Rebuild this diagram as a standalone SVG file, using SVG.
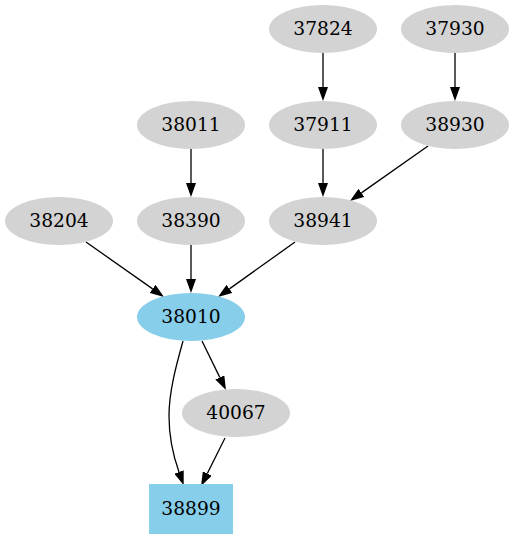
<svg xmlns="http://www.w3.org/2000/svg" width="514" height="539" viewBox="0 0 514 539">
<style>
.n{fill:#d3d3d3;stroke:none}
.h{fill:#87ceeb;stroke:none}
text{font-family:"DejaVu Serif",serif;font-size:18.67px;text-anchor:middle;fill:#000}
.e{fill:none;stroke:#000;stroke-width:1.3;marker-end:url(#ah)}
</style>
<defs>
<marker id="ah" markerWidth="14" markerHeight="10" refX="0" refY="5" orient="auto" markerUnits="userSpaceOnUse">
<path d="M0,0 L14,5 L0,10 z" fill="#000"/>
</marker>
</defs>
<rect width="514" height="539" fill="#fff"/>
<g id="edges">
<path class="e" d="M323,53 L323,87"/>
<path class="e" d="M455,53 L455,87"/>
<path class="e" d="M191,149 L191,183"/>
<path class="e" d="M323,149 L323,183"/>
<path class="e" d="M428,146 L361.4,192.9"/>
<path class="e" d="M86,242 L152.6,288.9"/>
<path class="e" d="M191,245 L191,279"/>
<path class="e" d="M295,242 L229.4,288.9"/>
<path class="e" d="M202,341 L219.8,377.4"/>
<path class="e" d="M225,438 L207.3,473.5"/>
<path class="e" d="M183,341 C176,366 169,392 169,416 C169,437 174,458 179,472"/>
</g>
<g id="n37824"><ellipse class="n" cx="323" cy="29" rx="54" ry="24"/><text x="323" y="34.5">37824</text></g>
<g id="n37930"><ellipse class="n" cx="455" cy="29" rx="54" ry="24"/><text x="455" y="34.5">37930</text></g>
<g id="n38011"><ellipse class="n" cx="191" cy="125" rx="54" ry="24"/><text x="191" y="130.5">38011</text></g>
<g id="n37911"><ellipse class="n" cx="323" cy="125" rx="54" ry="24"/><text x="323" y="130.5">37911</text></g>
<g id="n38930"><ellipse class="n" cx="455" cy="125" rx="54" ry="24"/><text x="455" y="130.5">38930</text></g>
<g id="n38204"><ellipse class="n" cx="59" cy="221" rx="54" ry="24"/><text x="59" y="226.5">38204</text></g>
<g id="n38390"><ellipse class="n" cx="191" cy="221" rx="54" ry="24"/><text x="191" y="226.5">38390</text></g>
<g id="n38941"><ellipse class="n" cx="323" cy="221" rx="54" ry="24"/><text x="323" y="226.5">38941</text></g>
<g id="n38010"><ellipse class="h" cx="191" cy="317" rx="54" ry="24"/><text x="191" y="322.5">38010</text></g>
<g id="n40067"><ellipse class="n" cx="236" cy="413" rx="54" ry="24"/><text x="236" y="418.5">40067</text></g>
<g id="n38899"><rect class="h" x="149" y="484" width="84" height="50"/><text x="191" y="514.5">38899</text></g>
</svg>
